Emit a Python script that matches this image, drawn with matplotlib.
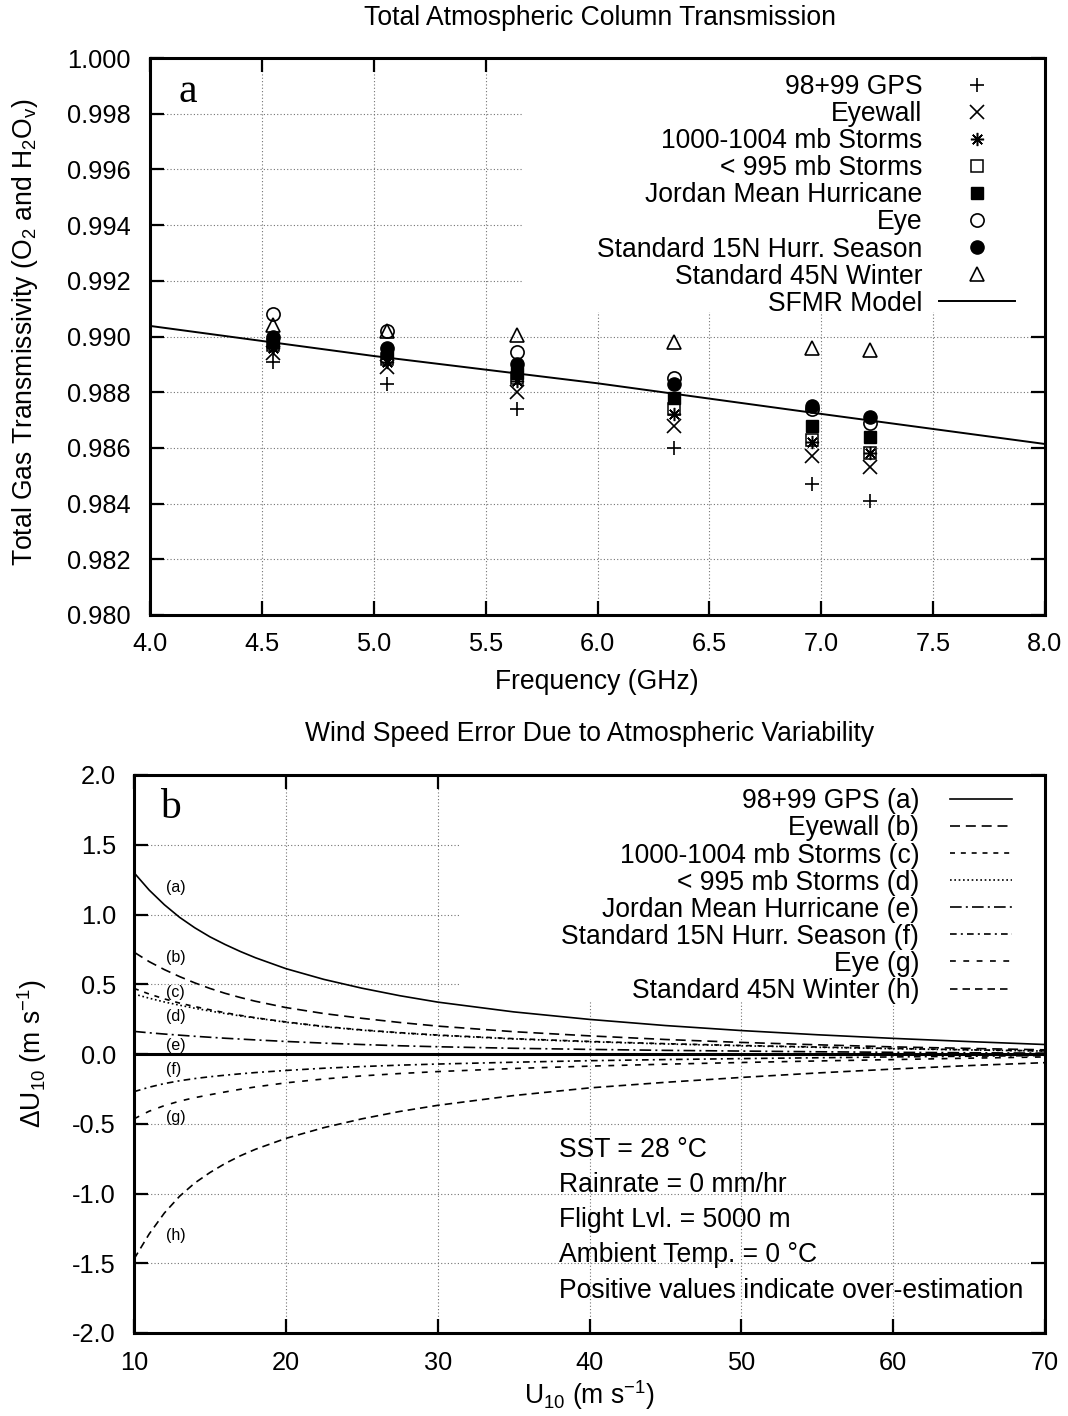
import matplotlib
matplotlib.use('Agg')
import matplotlib.pyplot as plt
from matplotlib.patches import Rectangle

plt.rcParams['font.family'] = ['Liberation Sans', 'DejaVu Sans']
plt.rcParams['mathtext.default'] = 'regular'

# ---------------- Panel a data ----------------
freq = [4.55, 5.06, 5.64, 6.34, 6.96, 7.22]
gps = [0.9891, 0.9883, 0.9874, 0.9860, 0.9847, 0.9841]
eyewall = [0.9894, 0.9889, 0.9880, 0.9868, 0.9857, 0.9853]
storms_1000 = [0.9896, 0.9891, 0.9884, 0.9872, 0.9862, 0.9858]
storms_995 = [0.9897, 0.9892, 0.9885, 0.9874, 0.9863, 0.9858]
jordan = [0.9898, 0.9894, 0.9887, 0.9878, 0.9868, 0.9864]
eye = [0.9908, 0.9902, 0.98945, 0.9885, 0.9874, 0.9869]
std15n = [0.9900, 0.9896, 0.9890, 0.9883, 0.9875, 0.9871]
std45n = [0.9904, 0.9902, 0.99005, 0.9898, 0.9896, 0.9895]
model_freq = [4.0, 5.0, 6.0, 7.0, 8.0]
model_trans = [0.99038, 0.98930, 0.98832, 0.98722, 0.98614]

series_a_labels = ['98+99 GPS', 'Eyewall', '1000-1004 mb Storms', '< 995 mb Storms',
                   'Jordan Mean Hurricane', 'Eye', 'Standard 15N Hurr. Season',
                   'Standard 45N Winter']

# ---------------- Panel b data ----------------
u10 = [10, 11, 12, 13, 14, 15, 16, 17, 18, 20, 22.5, 25, 27.5, 30, 35, 40, 45, 50, 55, 60, 65, 70]
du_a = [1.30, 1.175, 1.07, 0.98, 0.905, 0.84, 0.785, 0.735, 0.69, 0.612, 0.535, 0.472, 0.418, 0.372,
        0.302, 0.248, 0.204, 0.168, 0.138, 0.112, 0.089, 0.068]
du_b = [0.73, 0.662, 0.605, 0.555, 0.51, 0.47, 0.435, 0.405, 0.378, 0.333, 0.29, 0.256, 0.226, 0.20,
        0.16, 0.13, 0.104, 0.083, 0.066, 0.051, 0.04, 0.03]
du_c = [0.47, 0.43, 0.395, 0.365, 0.34, 0.317, 0.296, 0.277, 0.26, 0.23, 0.198, 0.173, 0.153, 0.136,
        0.11, 0.09, 0.074, 0.061, 0.05, 0.04, 0.03, 0.022]
du_d = [0.43, 0.40, 0.373, 0.35, 0.328, 0.308, 0.29, 0.273, 0.258, 0.228, 0.196, 0.171, 0.151, 0.134,
        0.108, 0.088, 0.072, 0.059, 0.048, 0.038, 0.029, 0.021]
du_e = [0.162, 0.152, 0.143, 0.135, 0.127, 0.12, 0.113, 0.107, 0.101, 0.09, 0.078, 0.068, 0.059, 0.052,
        0.041, 0.033, 0.026, 0.021, 0.016, 0.012, 0.009, 0.006]
du_f = [-0.27, -0.238, -0.212, -0.192, -0.176, -0.163, -0.152, -0.142, -0.133, -0.118, -0.102, -0.09,
        -0.08, -0.072, -0.059, -0.048, -0.04, -0.033, -0.027, -0.021, -0.016, -0.011]
du_g = [-0.465, -0.41, -0.37, -0.338, -0.313, -0.292, -0.272, -0.253, -0.236, -0.207, -0.179, -0.157,
        -0.14, -0.126, -0.104, -0.087, -0.073, -0.061, -0.05, -0.04, -0.03, -0.021]
du_h = [-1.47, -1.29, -1.14, -1.02, -0.925, -0.85, -0.785, -0.73, -0.683, -0.605, -0.528, -0.465,
        -0.412, -0.368, -0.298, -0.243, -0.203, -0.168, -0.136, -0.108, -0.083, -0.062]

series_b_labels = ['98+99 GPS (a)', 'Eyewall (b)', '1000-1004 mb Storms (c)', '< 995 mb Storms (d)',
                   'Jordan Mean Hurricane (e)', 'Standard 15N Hurr. Season (f)', 'Eye (g)',
                   'Standard 45N Winter (h)']
curve_tags = ['(a)', '(b)', '(c)', '(d)', '(e)', '(f)', '(g)', '(h)']
tag_y = [1.19, 0.69, 0.44, 0.27, 0.06, -0.11, -0.455, -1.30]
note_lines = ['SST = 28 \u00b0C', 'Rainrate = 0 mm/hr', 'Flight Lvl. = 5000 m',
              'Ambient Temp. = 0 \u00b0C', 'Positive values indicate over-estimation']
note_y = [-0.69, -0.94, -1.19, -1.44, -1.70]

W, H = 1068, 1416
fig = plt.figure(figsize=(W / 100, H / 100), dpi=100)


def fx(px):
    return px / W


def fy(py):
    return 1 - py / H


FS = 19.1
TFS = 18.3


def style_axes(ax, xpad, ypad):
    for s in ax.spines.values():
        s.set_linewidth(2.2)
    ax.tick_params(direction='in', top=True, right=True, length=10, width=1.6,
                   labelsize=TFS)
    ax.tick_params(axis='x', pad=xpad)
    ax.tick_params(axis='y', pad=ypad)
    ax.grid(True, color='0.45', linestyle=(0, (1, 2)), linewidth=0.8)
    ax.set_axisbelow(True)


# ================= Panel a =================
ax1 = fig.add_axes([fx(150), fy(615), fx(1045) - fx(150), fy(58) - fy(615)])
style_axes(ax1, 12, 14)
ax1.set_xlim(4.0, 8.0)
ax1.set_ylim(0.980, 1.000)
ax1.set_xticks([4.0 + 0.5 * i for i in range(9)])
ax1.set_yticks([0.980 + 0.002 * i for i in range(11)])
ax1.set_xticklabels(['%.1f' % (4.0 + 0.5 * i) for i in range(9)])
ax1.set_yticklabels(['%.3f' % (0.980 + 0.002 * i) for i in range(11)])

ax1.add_patch(Rectangle((0.416, 0.544), 0.6, 0.5, transform=ax1.transAxes,
                        facecolor='white', edgecolor='none', zorder=1.5))

ms = 9.5
mk = dict(color='k', linestyle='none', markersize=ms, zorder=3)
h = []
h += ax1.plot(freq, gps, marker='+', mew=1.2, label=series_a_labels[0], **mk)
h += ax1.plot(freq, eyewall, marker='x', mew=1.2, label=series_a_labels[1], **mk)
h += ax1.plot(freq, storms_1000, marker=(8, 2, 0), mew=1.1, label=series_a_labels[2], **mk)
h += ax1.plot(freq, storms_995, marker='s', mfc='none', mew=1.1, label=series_a_labels[3],
              **{**mk, 'markersize': 9})
h += ax1.plot(freq, jordan, marker='s', mfc='k', mew=1.0, label=series_a_labels[4],
              **{**mk, 'markersize': 9})
h += ax1.plot(freq, eye, marker='o', mfc='none', mew=1.2, label=series_a_labels[5], **mk)
h += ax1.plot(freq, std15n, marker='o', mfc='k', mew=1.0, label=series_a_labels[6], **mk)
h += ax1.plot(freq, std45n, marker='^', mfc='none', mew=1.2, label=series_a_labels[7], **mk)
h += ax1.plot(model_freq, model_trans, color='k', lw=1.4, label='SFMR Model', zorder=2.5)

leg1 = ax1.legend(handles=h, loc='upper right', bbox_to_anchor=(0.9665, 0.971),
                  frameon=False, markerfirst=False, fontsize=FS, handlelength=2.85,
                  handletextpad=0.65, labelspacing=0.04, borderpad=0, borderaxespad=0,
                  numpoints=1)
leg1.set_zorder(5)

ax1.text(0.032, 0.939, 'a', transform=ax1.transAxes, fontfamily='Liberation Serif',
         fontsize=30, ha='left', va='center')

fig.text(fx(600), fy(18), 'Total Atmospheric Column Transmission', fontsize=FS,
         ha='center', va='center')
fig.text(fx(597), fy(682), 'Frequency (GHz)', fontsize=FS, ha='center', va='center')
fig.text(fx(25), fy(332), 'Total Gas Transmissivity (O$_2$ and H$_2$O$_v$)', fontsize=FS,
         ha='center', va='center', rotation=90)

# ================= Panel b =================
ax2 = fig.add_axes([fx(134), fy(1333), fx(1045) - fx(134), fy(775) - fy(1333)])
style_axes(ax2, 13, 13)
ax2.set_xlim(10, 70)
ax2.set_ylim(-2.0, 2.0)
ax2.set_xticks(list(range(10, 71, 10)))
ax2.set_yticks([-2.0 + 0.5 * i for i in range(9)])
ax2.set_yticklabels(['%.1f' % (-2.0 + 0.5 * i) for i in range(9)])

ax2.add_patch(Rectangle((0.357, 0.593), 0.7, 0.5, transform=ax2.transAxes,
                        facecolor='white', edgecolor='none', zorder=1.5))
ax2.axhline(0, color='k', lw=2.2, zorder=2)

curves = [du_a, du_b, du_c, du_d, du_e, du_f, du_g, du_h]
styles = ['-', (0, (6, 3.5)), (0, (3, 3.5)), (0, (1, 1.6)), (0, (7, 2.5, 1.2, 2.5)),
          (0, (4, 2.5, 1.2, 2.5)), (0, (3.5, 4.5)), (0, (4.5, 3))]
hb = []
for ys, ls, lab in zip(curves, styles, series_b_labels):
    hb += ax2.plot(u10, ys, color='k', lw=1.2, linestyle=ls, label=lab, zorder=3)

leg2 = ax2.legend(handles=hb, loc='upper right', bbox_to_anchor=(0.9638, 0.976),
                  frameon=False, markerfirst=False, fontsize=FS, handlelength=2.35,
                  handletextpad=1.15, labelspacing=0.04, borderpad=0, borderaxespad=0)
leg2.set_zorder(5)

for t, yv in zip(curve_tags, tag_y):
    ax2.text(12.1, yv, t, fontsize=11.5, ha='left', va='center', zorder=4)

for t, yv in zip(note_lines, note_y):
    ax2.text(38.0, yv, t, fontsize=FS, ha='left', va='center', zorder=4)

ax2.text(0.0285, 0.941, 'b', transform=ax2.transAxes, fontfamily='Liberation Serif',
         fontsize=30, ha='left', va='center')

fig.text(fx(590), fy(734), 'Wind Speed Error Due to Atmospheric Variability', fontsize=FS,
         ha='center', va='center')
fig.text(fx(590), fy(1395), 'U$_{10}$ (m s$^{-1}$)', fontsize=FS, ha='center', va='center')
fig.text(fx(32), fy(1054), '\u0394U$_{10}$ (m s$^{-1}$)', fontsize=FS, ha='center',
         va='center', rotation=90)

fig.savefig('out.png', dpi=100, facecolor='white')
